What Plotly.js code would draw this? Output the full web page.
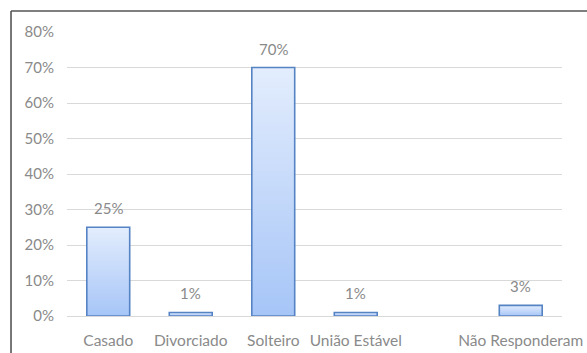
<!DOCTYPE html>
<html>
<head>
<meta charset="utf-8">
<script src="https://cdn.plot.ly/plotly-3.0.1.min.js"></script>
<style>html,body{margin:0;padding:0;background:#fff;}#chart{width:587px;height:353px;}</style>
</head>
<body>
<div id="chart"></div>
<script>
const categories = ["Casado", "Divorciado", "Solteiro", "União Estável", " ", "Não Responderam"];
const values = [0.25, 0.01, 0.70, 0.01, null, 0.03];
const valueLabels = ["25%", "1%", "70%", "1%", "", "3%"];
const yTickValues = [0, 0.1, 0.2, 0.3, 0.4, 0.5, 0.6, 0.7, 0.8];
const yTickLabels = ["0%", "10%", "20%", "30%", "40%", "50%", "60%", "70%", "80%"];

const FONT = "Lato, 'Open Sans', sans-serif";
const GRAY = "#8a8a8a";

const trace = {
  type: "bar",
  x: categories,
  y: values,
  width: 0.52,
  marker: { color: "#c6dafa", line: { color: "#5583c3", width: 1.6 } },
  hoverinfo: "skip"
};

const annotations = categories.map((c, i) => values[i] == null ? null : ({
  x: c, y: values[i], xref: "x", yref: "y",
  text: valueLabels[i], showarrow: false, yanchor: "bottom", yshift: 8,
  font: { family: FONT, size: 15, color: GRAY }
})).filter(a => a);

const layout = {
  width: 587, height: 353,
  margin: { l: 67, r: 25, t: 32, b: 37, pad: 0 },
  paper_bgcolor: "#ffffff", plot_bgcolor: "#ffffff",
  showlegend: false,
  font: { family: FONT, size: 15, color: GRAY },
  xaxis: {
    type: "category", categoryorder: "array", categoryarray: categories,
    showgrid: false, zeroline: false, showline: false, ticks: "",
    ticklabelstandoff: 13,
    tickfont: { family: FONT, size: 15.5, color: GRAY }, fixedrange: true
  },
  yaxis: {
    range: [0, 0.8], tickvals: yTickValues, ticktext: yTickLabels,
    showgrid: true, gridcolor: "#d9d9d9", gridwidth: 1,
    zeroline: true, zerolinecolor: "#d9d9d9", zerolinewidth: 1,
    showline: false, ticks: "", ticklabelstandoff: 12,
    tickfont: { family: FONT, size: 15, color: GRAY }, fixedrange: true
  },
  annotations: annotations,
  shapes: [
    { type: "line", xref: "paper", yref: "paper", x0: -0.1131, x1: 1.06, y0: 1.0739, y1: 1.0739,
      line: { color: "#555555", width: 1.6 } },
    { type: "line", xref: "paper", yref: "paper", x0: -0.1131, x1: -0.1131, y0: 1.0739, y1: -0.14,
      line: { color: "#555555", width: 1.6 } }
  ]
};

Plotly.newPlot("chart", [trace], layout, { displayModeBar: false, staticPlot: true }).then(gd => {
  const svg = gd.querySelector("svg.main-svg");
  const ns = "http://www.w3.org/2000/svg";
  let defs = svg.querySelector("defs");
  if (!defs) { defs = document.createElementNS(ns, "defs"); svg.insertBefore(defs, svg.firstChild); }
  const lg = document.createElementNS(ns, "linearGradient");
  lg.setAttribute("id", "barGrad");
  lg.setAttribute("x1", "0"); lg.setAttribute("y1", "0");
  lg.setAttribute("x2", "0"); lg.setAttribute("y2", "1");
  [["0%", "#e3edfd"], ["100%", "#a6c5f7"]].forEach(([o, c]) => {
    const s = document.createElementNS(ns, "stop");
    s.setAttribute("offset", o); s.setAttribute("stop-color", c);
    lg.appendChild(s);
  });
  defs.appendChild(lg);
  gd.querySelectorAll(".bars .point path").forEach(p => { p.style.fill = "url(#barGrad)"; });
});
</script>
</body>
</html>
